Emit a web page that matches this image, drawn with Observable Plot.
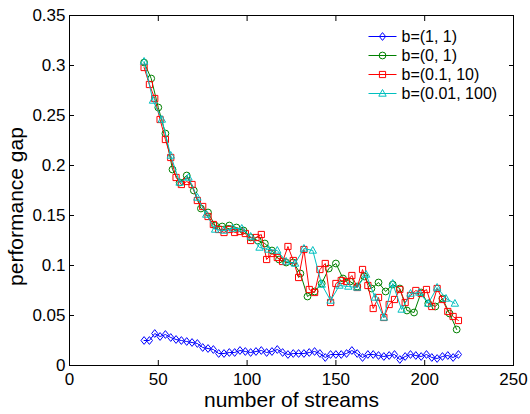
<!DOCTYPE html>
<html><head><meta charset="utf-8">
<script src="https://cdn.jsdelivr.net/npm/d3@7"></script>
<script src="https://cdn.jsdelivr.net/npm/@observablehq/plot@0.6"></script>
<style>
html,body{margin:0;padding:0;background:#fff;}
#chart svg{font-family:"Liberation Sans",Arial,Helvetica,sans-serif;}
#chart g[aria-label="x-axis label"]{font-size:21px;}
</style></head><body><div id="chart"></div>
<script>
const xTicks = [0, 50, 100, 150, 200, 250];
const yTicks = [0, 0.05, 0.1, 0.15, 0.2, 0.25, 0.3, 0.35];
const yTickLabels = ["0", "0.05", "0.1", "0.15", "0.2", "0.25", "0.3", "0.35"];
const seriesNames = ["b=(1, 1)", "b=(0, 1)", "b=(0.1, 10)", "b=(0.01, 100)"];
const xTitle = "number of streams";
const yTitle = "performance gap";

const streams3 = [42,45,48,51,54,57,60,63,66,69,72,75,78,81,84,87,90,93,96,99,102,105,108,111,114,117,120,123,126,129,132,135,138,141,144,147,150,153,156,159,162,165,168,171,174,177,180,183,186,189,192,195,198,201,204,207,210,213,216,219];
const streams4 = [42,46,50,54,58,62,66,70,74,78,82,86,90,94,98,102,106,110,114,118,122,126,130,134,138,142,146,150,154,158,162,166,170,174,178,182,186,190,194,198,202,206,210,214,218];
const streams5 = [42,47,52,57,62,67,72,77,82,87,92,97,102,107,112,117,122,127,132,137,142,147,152,157,162,167,172,177,182,187,192,197,202,207,212,217];

const gapB11 = [0.025,0.025,0.032,0.029,0.031,0.028,0.026,0.025,0.024,0.023,
  0.022,0.018,0.017,0.016,0.012,0.012,0.013,0.013,0.015,0.014,
  0.013,0.014,0.015,0.013,0.014,0.016,0.013,0.011,0.012,0.012,
  0.012,0.013,0.014,0.012,0.008,0.011,0.011,0.011,0.012,0.015,
  0.012,0.008,0.011,0.011,0.010,0.009,0.010,0.011,0.006,0.009,
  0.011,0.010,0.009,0.011,0.008,0.007,0.009,0.010,0.008,0.011];
const gapB01 = [0.303,0.287,0.258,0.232,0.196,0.183,0.190,0.175,0.157,0.153,
  0.140,0.139,0.140,0.138,0.135,0.128,0.125,0.122,0.115,0.106,
  0.103,0.103,0.092,0.069,0.074,0.082,0.097,0.102,0.087,0.084,
  0.079,0.089,0.077,0.083,0.074,0.081,0.077,0.055,0.053,0.073,
  0.062,0.059,0.067,0.052,0.036];
const gapB0110 = [0.298,0.281,0.267,0.246,0.226,0.208,0.188,0.181,0.184,0.181,
  0.165,0.159,0.149,0.141,0.136,0.133,0.136,0.133,0.134,0.132,
  0.125,0.128,0.131,0.106,0.112,0.108,0.104,0.119,0.105,0.088,
  0.116,0.076,0.073,0.096,0.102,0.063,0.082,0.085,0.084,0.090,
  0.078,0.096,0.080,0.057,0.068,0.048,0.061,0.066,0.076,0.063,
  0.070,0.075,0.072,0.076,0.059,0.077,0.066,0.054,0.049,0.045];
const gapB001100 = [0.304,0.265,0.246,0.210,0.183,0.188,0.168,0.151,0.136,0.135,
  0.137,0.137,0.129,0.118,0.116,0.115,0.104,0.102,0.117,0.115,
  0.081,0.065,0.080,0.079,0.078,0.091,0.068,0.048,0.082,0.056,
  0.072,0.073,0.062,0.078,0.067,0.062];

const diamondSym = {draw(c){c.moveTo(0,-3.9);c.lineTo(3.1,0);c.lineTo(0,3.9);c.lineTo(-3.1,0);c.closePath();}};
const circleSym = {draw(c){c.moveTo(3.4,0);c.arc(0,0,3.4,0,2*Math.PI);c.closePath();}};
const squareSym = {draw(c){c.rect(-3.1,-3.1,6.2,6.2);}};
const triangleSym = {draw(c){c.moveTo(0,-4);c.lineTo(3.7,2.7);c.lineTo(-3.7,2.7);c.closePath();}};
const legendLineSym = {draw(c){c.moveTo(-14,0);c.lineTo(14,0);}};

const series = [
  {name: seriesNames[0], xs: streams3, ys: gapB11, color: "#0000ff", symbol: diamondSym},
  {name: seriesNames[1], xs: streams4, ys: gapB01, color: "#008000", symbol: circleSym},
  {name: seriesNames[2], xs: streams3, ys: gapB0110, color: "#ff0000", symbol: squareSym},
  {name: seriesNames[3], xs: streams5, ys: gapB001100, color: "#00bfbf", symbol: triangleSym}
];

const marks = [];
series.forEach((s, k) => {
  const rows = s.xs.map((x, i) => ({x, y: s.ys[i]}));
  marks.push(Plot.line(rows, {x: "x", y: "y", stroke: s.color, strokeWidth: 1}));
  marks.push(Plot.dot(rows, {x: "x", y: "y", stroke: s.color, fill: "none", strokeWidth: 1, symbol: s.symbol, r: 3}));
  // legend entry
  marks.push(Plot.dot([s.name], {frameAnchor: "top-left", dx: 313, dy: 21 + 19 * k, stroke: s.color, fill: "none", strokeWidth: 1, symbol: legendLineSym}));
  marks.push(Plot.dot([s.name], {frameAnchor: "top-left", dx: 313, dy: 21 + 19 * k, stroke: s.color, fill: "none", strokeWidth: 1, symbol: s.symbol}));
  marks.push(Plot.text([s.name], {frameAnchor: "top-left", dx: 332, dy: 21 + 19 * k, text: d => d, textAnchor: "start", lineAnchor: "middle", fill: "#000", fontSize: 16}));
});

const chart = Plot.plot({
  width: 530, height: 414,
  marginLeft: 69, marginRight: 17, marginTop: 15, marginBottom: 49,
  style: {fontFamily: '"Liberation Sans", Arial, sans-serif', fontSize: "17px", color: "#000", background: "#fff"},
  x: {domain: [0, 250]},
  y: {domain: [0, 0.35]},
  marks: [
    ...marks,
    Plot.frame({stroke: "#000", strokeWidth: 1}),
    Plot.axisX(xTicks, {anchor: "bottom", tickSize: -5, tickPadding: 12, label: xTitle, labelAnchor: "center", labelOffset: 41, labelArrow: "none"}),
    Plot.axisX(xTicks, {anchor: "top", tickSize: -5, fill: "none", label: null}),
    Plot.axisY(yTicks, {anchor: "left", tickSize: -5, tickPadding: 9, tickFormat: (d) => yTickLabels[yTicks.indexOf(d)], label: null}),
    Plot.axisY(yTicks, {anchor: "right", tickSize: -5, fill: "none", label: null}),
    Plot.text([yTitle], {frameAnchor: "left", dx: -53, dy: 16, rotate: -90, text: d => d, textAnchor: "middle", lineAnchor: "middle", fontSize: 21, fill: "#000"})
  ]
});
document.getElementById("chart").appendChild(chart);
</script></body></html>
